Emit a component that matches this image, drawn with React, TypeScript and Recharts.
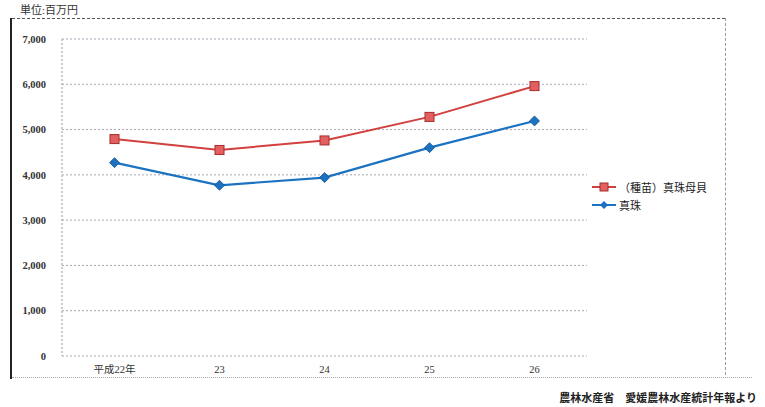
import { LineChart, Line, XAxis, YAxis, CartesianGrid } from "recharts";

const years = ["平成22年", "23", "24", "25", "26"];
const motherShell = [4790, 4550, 4760, 5280, 5960];
const pearl = [4270, 3770, 3940, 4600, 5190];
const yTicks = [0, 1000, 2000, 3000, 4000, 5000, 6000, 7000];

const data = years.map((year, i) => ({ year, motherShell: motherShell[i], pearl: pearl[i] }));

const RED = "#d2403f";
const BLUE = "#1b72c0";
const FONT = "'Liberation Serif', 'Noto Sans CJK JP', serif";

function SquareDot(props: any) {
  const { cx, cy } = props;
  return <rect x={cx - 4.5} y={cy - 4.5} width={9} height={9} fill="#e2605f" stroke="#a52c2c" strokeWidth={1} />;
}

function DiamondDot(props: any) {
  const { cx, cy } = props;
  return <path d={`M${cx},${cy - 5}L${cx + 5},${cy}L${cx},${cy + 5}L${cx - 5},${cy}Z`} fill={BLUE} stroke="#14508a" strokeWidth={0.8} />;
}

function LegendBox() {
  const rows = [
    { label: "（種苗）真珠母貝", color: RED, shape: "square" },
    { label: "真珠", color: BLUE, shape: "diamond" },
  ];
  return (
    <div style={{ position: "absolute", left: 592, top: 178, fontFamily: FONT, fontSize: 11, color: "#222" }}>
      {rows.map((r) => (
        <div key={r.label} style={{ display: "flex", alignItems: "center", height: 18 }}>
          <svg width={24} height={10} style={{ marginRight: 3 }}>
            <line x1={0} y1={5} x2={24} y2={5} stroke={r.color} strokeWidth={2} />
            {r.shape === "square" ? (
              <rect x={8} y={1} width={8} height={8} fill="#e2605f" stroke="#a52c2c" />
            ) : (
              <path d="M12,1L16,5L12,9L8,5Z" fill={BLUE} />
            )}
          </svg>
          <span>{r.label}</span>
        </div>
      ))}
    </div>
  );
}

export default function App() {
  return (
    <div style={{ position: "absolute", left: 0, top: 0, width: 765, height: 407, background: "#fff", fontFamily: FONT }}>
      <div style={{ position: "absolute", left: 20, top: 1, fontSize: 11, color: "#333" }}>単位:百万円</div>
      <div style={{ position: "absolute", left: 10, top: 18, width: 2, height: 361, background: "#222" }} />
      <div style={{ position: "absolute", left: 12, top: 18, width: 713, borderTop: "1px dashed #555" }} />
      <div style={{ position: "absolute", left: 725, top: 18, height: 357, borderLeft: "1px dashed #999" }} />
      <div style={{ position: "absolute", left: 12, top: 377, width: 740, borderTop: "1px dotted #aaa" }} />
      <LineChart width={765} height={407} data={data} margin={{ top: 39, right: 178, bottom: 31, left: 0 }}>
        <CartesianGrid vertical={false} stroke="#a8a8b8" strokeDasharray="2 2" />
        <XAxis
          dataKey="year"
          scale="band"
          axisLine={false}
          tickLine={false}
          height={20}
          tickMargin={4}
          tick={{ fontSize: 10.5, fill: "#333", fontFamily: FONT }}
        />
        <YAxis
          domain={[0, 7000]}
          ticks={yTicks}
          width={62}
          tickLine={false}
          axisLine={{ stroke: "#999", strokeDasharray: "2 2" }}
          tickMargin={10}
          tickFormatter={(v: number) => v.toLocaleString("en-US")}
          tick={{ fontSize: 10.5, fill: "#333", fontFamily: FONT, fontWeight: "bold" }}
        />
        <Line dataKey="motherShell" name="（種苗）真珠母貝" stroke={RED} strokeWidth={2} dot={<SquareDot />} isAnimationActive={false} />
        <Line dataKey="pearl" name="真珠" stroke={BLUE} strokeWidth={2.2} dot={<DiamondDot />} isAnimationActive={false} />
      </LineChart>
      <LegendBox />
      <div style={{ position: "absolute", right: 8, top: 389, fontSize: 11, fontWeight: "bold", color: "#222" }}>
        農林水産省　愛媛農林水産統計年報より
      </div>
    </div>
  );
}
